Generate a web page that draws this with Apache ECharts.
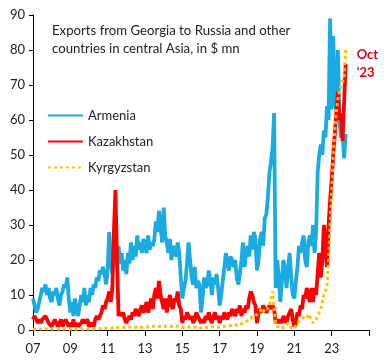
<!DOCTYPE html>
<html>
<head>
<meta charset="utf-8">
<script src="https://cdn.jsdelivr.net/npm/echarts@6/dist/echarts.min.js"></script>
<style>
html,body{margin:0;padding:0;background:#fff;}
#chart{width:384px;height:360px;}
</style>
</head>
<body>
<div id="chart"></div>
<script>
// Tick labels shown every two years on the x axis
var tickLabels = ["07", "09", "11", "13", "15", "17", "19", "21", "23"];
var startYear = 2007;
var endYear = 2025;

// Monthly exports, $ mn, Jan 2007 - Oct 2023
var armenia = [
  9, 7, 5, 6, 8, 10, 12, 11, 13, 10, 12, 9,
  8, 11, 10, 12, 9, 7, 10, 11, 13, 12, 15, 9,
  5, 8, 4, 9, 6, 4, 7, 10, 8, 12, 7, 10,
  8, 12, 10, 13, 12, 15, 14, 17, 16, 18, 16, 13,
  17, 28, 20, 16, 21, 25, 18, 24, 19, 22, 17, 20,
  16, 22, 19, 25, 20, 24, 21, 27, 23, 25, 22, 26,
  24, 22, 27, 23, 25, 24, 26, 31, 28, 34, 30, 25,
  35, 27, 25, 22, 26, 20, 24, 23, 21, 25, 22, 15,
  9, 12, 14, 19, 25, 20, 15, 13, 18, 12, 14, 13,
  5, 9, 15, 12, 13, 17, 14, 10, 15, 13, 16, 12,
  7, 10, 14, 18, 22, 19, 17, 21, 20, 18, 20, 15,
  13, 16, 20, 25, 18, 22, 24, 21, 27, 23, 28, 26,
  17, 20, 26, 28, 24, 32, 33, 38, 45, 48, 52, 62,
  12, 20, 15, 8, 14, 20, 17, 12, 18, 22, 15, 10,
  9, 14, 18, 24, 22, 25, 27, 20, 18, 25, 27, 24,
  30, 22, 28, 45, 50, 53, 50, 57, 55, 64, 60, 89,
  63, 84, 65, 63, 80, 60, 55, 56, 49, 56
];
var kazakhstan = [
  3, 4, 3, 2, 3, 2, 3, 3, 4, 3, 2, 2,
  1, 2, 3, 2, 1, 2, 3, 1, 2, 3, 2, 1,
  2, 1, 3, 1, 2, 1, 1, 2, 3, 2, 2, 3,
  1, 1, 2, 1, 3, 4, 3, 4, 5, 7, 6, 8,
  9, 11, 8, 12, 28, 40, 20, 4, 5, 4, 5, 3,
  2, 3, 4, 3, 5, 4, 6, 5, 4, 6, 7, 5,
  6, 8, 5, 7, 9, 6, 10, 12, 9, 14, 10, 8,
  6, 9, 5, 8, 10, 7, 6, 9, 8, 11, 7, 6,
  2, 4, 3, 5, 4, 3, 4, 2, 3, 5, 4, 3,
  2, 3, 2, 4, 3, 5, 3, 2, 4, 5, 3, 4,
  2, 4, 3, 5, 4, 3, 5, 4, 6, 5, 4, 6,
  5, 7, 4, 6, 5, 7, 6, 9, 11, 10, 8, 7,
  2, 5, 6, 5, 7, 6, 5, 6, 7, 6, 7, 6,
  2, 3, 2, 3, 2, 4, 3, 2, 4, 5, 6, 3,
  1, 2, 5, 4, 7, 6, 10, 9, 12, 10, 8, 12,
  8, 12, 10, 16, 22, 15, 20, 30, 24, 18, 30, 37,
  43, 50, 56, 62, 68, 60, 62, 54, 65, 76
];
var kyrgyzstan = [
  0.2, 0.3, 0.2, 0.3, 0.4, 0.3, 0.2, 0.3, 0.4, 0.3, 0.2, 0.3,
  0.3, 0.2, 0.3, 0.4, 0.3, 0.2, 0.3, 0.4, 0.3, 0.2, 0.3, 0.3,
  0.2, 0.3, 0.2, 0.3, 0.2, 0.3, 0.4, 0.3, 0.2, 0.3, 0.3, 0.2,
  0.3, 0.2, 0.3, 0.4, 0.3, 0.4, 0.3, 0.5, 0.4, 0.3, 0.5, 0.4,
  0.5, 0.6, 0.5, 0.7, 0.6, 0.8, 0.7, 0.6, 0.8, 0.9, 0.7, 0.8,
  0.9, 1.2, 0.8, 0.7, 0.9, 0.6, 0.8, 1.0, 0.9, 0.7, 0.8, 0.9,
  0.8, 0.7, 0.9, 1.0, 0.8, 0.9, 1.1, 0.9, 1.0, 1.2, 1.0, 0.9,
  1.0, 0.9, 1.1, 1.2, 1.0, 0.9, 1.1, 1.0, 1.2, 1.1, 0.9, 1.0,
  0.7, 0.6, 0.8, 0.7, 0.9, 0.8, 0.6, 0.7, 0.8, 0.7, 0.6, 0.7,
  0.6, 0.7, 0.8, 0.6, 0.7, 0.9, 0.8, 0.7, 0.9, 0.8, 1.0, 0.9,
  0.8, 0.9, 1.0, 0.8, 1.1, 0.9, 1.2, 1.0, 1.3, 1.1, 1.5, 1.4,
  1.2, 1.5, 1.8, 1.5, 2.2, 2.0, 2.6, 3.0, 3.2, 3.8, 4.2, 4.0,
  4.5, 5.0, 5.5, 6.0, 5.2, 6.2, 6.5, 6.0, 7.0, 9.0, 11.0, 6.0,
  2.0, 1.2, 0.6, 1.0, 0.5, 0.4, 1.0, 1.5, 2.0, 1.2, 0.6, 0.3,
  0.5, 1.0, 2.0, 2.5, 3.0, 2.6, 3.5, 4.0, 3.2, 4.5, 5.0, 3.0,
  2.0, 2.2, 3.0, 4.0, 5.0, 6.0, 8.0, 10.0, 11.0, 13.0, 20.0, 30.0,
  40, 50, 57, 62, 66, 68, 70, 70, 72, 80
];

// Month categories Jan 2007 .. Jan 2025
var months = [];
for (var y = startYear; y <= endYear; y++) {
  for (var m = 1; m <= 12; m++) {
    if (y === endYear && m > 1) break;
    months.push(y + "-" + (m < 10 ? "0" + m : m));
  }
}

var FONT = "Lato";
var TXT = "#222";

var chart = echarts.init(document.getElementById("chart"), null, {renderer: "canvas"});
chart.setOption({
  animation: false,
  backgroundColor: "#fff",
  title: {
    text: "Exports from Georgia to Russia and other\ncountries in central Asia, in $ mn",
    left: 47,
    top: 17,
    textStyle: {fontFamily: FONT, fontSize: 13.2, fontWeight: "normal", color: TXT, lineHeight: 18}
  },
  legend: {
    orient: "vertical",
    left: 42,
    top: 104,
    itemWidth: 35,
    itemHeight: 14,
    itemGap: 13,
    itemStyle: {opacity: 0},
    textStyle: {fontFamily: FONT, fontSize: 13, color: TXT},
    data: ["Armenia", "Kazakhstan", "Kyrgyzstan"]
  },
  grid: {left: 33, right: 15, top: 15, bottom: 30, containLabel: false},
  xAxis: {
    type: "category",
    data: months,
    boundaryGap: false,
    axisLine: {lineStyle: {color: "#000", width: 1}},
    axisTick: {
      length: 6,
      lineStyle: {color: "#000"},
      interval: function (i) { return i % 24 === 0; }
    },
    axisLabel: {
      interval: function (i) { return i % 24 === 0; },
      formatter: function (v, i) { var k = i / 24; return tickLabels[k] || ""; },
      fontFamily: FONT, fontSize: 13, color: TXT, margin: 12
    },
    splitLine: {show: false}
  },
  yAxis: {
    type: "value",
    min: 0,
    max: 90,
    interval: 10,
    axisLine: {show: true, lineStyle: {color: "#000", width: 1}},
    axisTick: {show: true, length: 4, lineStyle: {color: "#000"}},
    axisLabel: {fontFamily: FONT, fontSize: 13, color: TXT, margin: 8},
    splitLine: {show: false}
  },
  series: [
    {
      name: "Armenia", type: "line", data: armenia, symbol: "none",
      lineStyle: {color: "#19abe2", width: 3.8}, itemStyle: {color: "#19abe2"}
    },
    {
      name: "Kazakhstan", type: "line", data: kazakhstan, symbol: "none",
      lineStyle: {color: "#ff0000", width: 3.8}, itemStyle: {color: "#ff0000"},
      endLabel: {
        show: true, formatter: "Oct\n'23", distance: 11,
        fontFamily: FONT, fontSize: 13, fontWeight: "bold", color: "#e3000f", lineHeight: 18
      }
    },
    {
      name: "Kyrgyzstan", type: "line", data: kyrgyzstan, symbol: "none",
      lineStyle: {color: "#ffc000", width: 3, type: [3, 3]}, itemStyle: {color: "#ffc000"}
    }
  ]
});
</script>
</body>
</html>
